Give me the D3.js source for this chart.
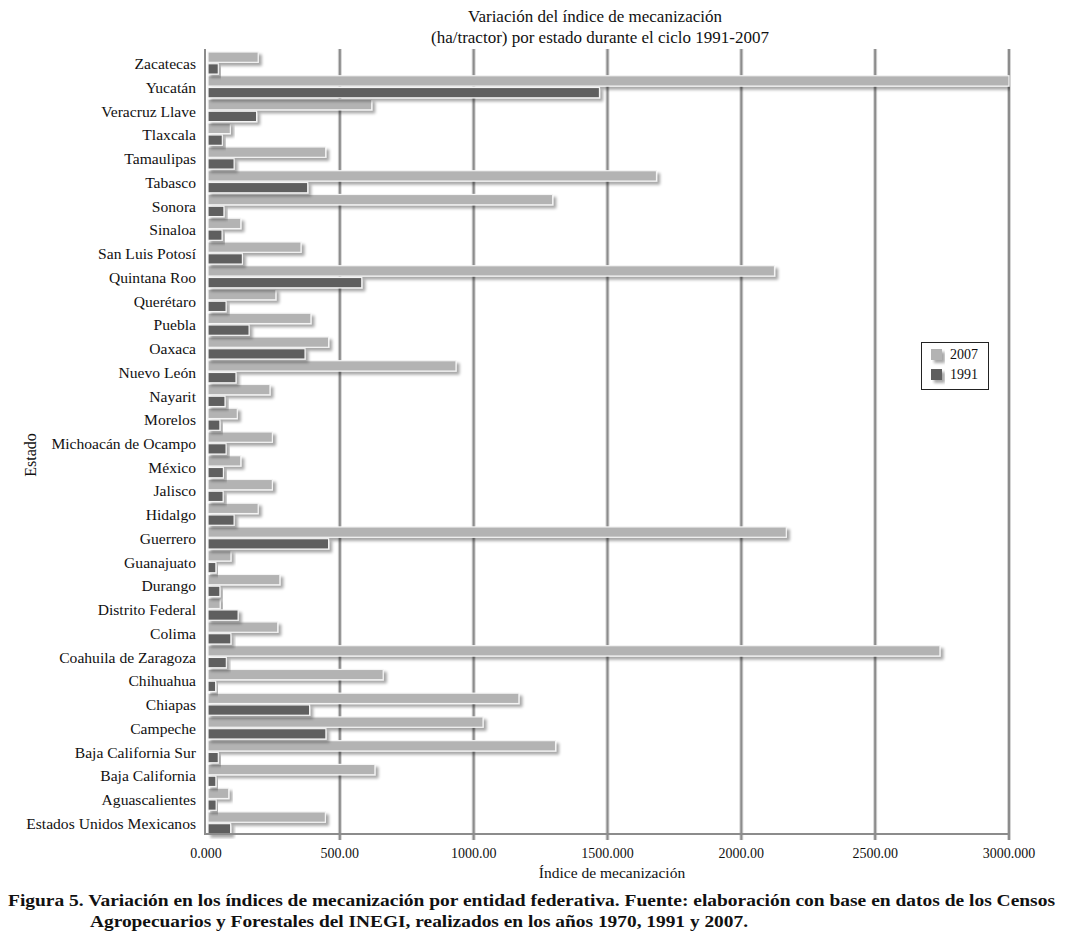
<!DOCTYPE html>
<html>
<head>
<meta charset="utf-8">
<script src="https://cdn.jsdelivr.net/npm/d3@7/dist/d3.min.js"></script>
<style>
  html, body { margin: 0; padding: 0; background: #fff; }
  svg { display: block; }
  text { font-family: "Liberation Serif", "Times New Roman", serif; fill: #111; }
</style>
</head>
<body>
<svg id="chart" width="1065" height="950"></svg>
<script>
const categories = [
  "Zacatecas", "Yucatán", "Veracruz Llave", "Tlaxcala", "Tamaulipas", "Tabasco",
  "Sonora", "Sinaloa", "San Luis Potosí", "Quintana Roo", "Querétaro", "Puebla",
  "Oaxaca", "Nuevo León", "Nayarit", "Morelos", "Michoacán de Ocampo", "México",
  "Jalisco", "Hidalgo", "Guerrero", "Guanajuato", "Durango", "Distrito Federal",
  "Colima", "Coahuila de Zaragoza", "Chihuahua", "Chiapas", "Campeche",
  "Baja California Sur", "Baja California", "Aguascalientes", "Estados Unidos Mexicanos"
];
const values2007 = [
  195, 3000, 619, 91, 447, 1683,
  1295, 130, 355, 2124, 261, 392,
  458, 934, 239, 117, 248, 130,
  248, 195, 2168, 93, 276, 53,
  268, 2742, 662, 1169, 1035,
  1306, 631, 85, 446
];
const values1991 = [
  46, 1470, 189, 61, 105, 380,
  67, 60, 136, 582, 75, 161,
  370, 112, 71, 52, 75, 65,
  64, 105, 458, 37, 52, 120,
  93, 76, 36, 387, 448,
  46, 37, 38, 92
];
const seriesNames = ["2007", "1991"];
const seriesColors = ["#b3b3b3", "#5e5e5e"];
const tickValues = [0, 500, 1000, 1500, 2000, 2500, 3000];
const tickLabels = ["0.000", "500.00", "1000.00", "1500.000", "2000.00", "2500.00", "3000.000"];
const titleLines = ["Variación del índice de mecanización", "(ha/tractor) por estado durante el ciclo 1991-2007"];
const captionLines = [
  "Figura 5. Variación en los índices de mecanización por entidad federativa. Fuente: elaboración con base en datos de los Censos",
  "Agropecuarios y Forestales del INEGI, realizados en los años 1970, 1991 y 2007."
];

const svg = d3.select("#chart");
const pL = 206, pR = 1009, pT = 52, pB = 834;

const x = d3.scaleLinear().domain([0, 3000]).range([pL, pR]);
const y = d3.scaleBand().domain(categories).range([pT, pB]).paddingInner(0.07).paddingOuter(0.0);
const ySub = d3.scaleBand().domain(seriesNames).range([0, y.bandwidth()]).paddingInner(0.12);

const defs = svg.append("defs");
const f = defs.append("filter").attr("id", "shadow").attr("x", "-10%").attr("y", "-50%").attr("width", "130%").attr("height", "250%");
f.append("feGaussianBlur").attr("in", "SourceAlpha").attr("stdDeviation", 1.4).attr("result", "blur");
f.append("feOffset").attr("in", "blur").attr("dx", 3).attr("dy", 3).attr("result", "off");
f.append("feComponentTransfer").attr("in", "off").attr("result", "offA")
  .append("feFuncA").attr("type", "linear").attr("slope", 0.35);
const m = f.append("feMerge");
m.append("feMergeNode").attr("in", "offA");
m.append("feMergeNode").attr("in", "SourceGraphic");

const clip = defs.append("clipPath").attr("id", "plotclip");
clip.append("rect").attr("x", pL).attr("y", pT - 5).attr("width", pR - pL + 1).attr("height", pB - pT + 10);

// gridlines
const grid = svg.append("g");
grid.selectAll("line.g").data(tickValues.slice(1)).join("line")
  .attr("x1", d => x(d)).attr("x2", d => x(d))
  .attr("y1", pT - 3).attr("y2", pB + 6)
  .attr("stroke", "#d4d4d4").attr("stroke-width", 4);
grid.selectAll("line.g2").data(tickValues.slice(1)).join("line")
  .attr("x1", d => x(d)).attr("x2", d => x(d))
  .attr("y1", pT - 3).attr("y2", pB + 6)
  .attr("stroke", "#8c8c8c").attr("stroke-width", 2);

// bars
const bars = svg.append("g").attr("clip-path", "url(#plotclip)");
const series = [values2007, values1991];
series.forEach((vals, si) => {
  bars.append("g").selectAll("rect").data(categories).join("rect")
    .attr("x", x(0) + 2)
    .attr("y", (c) => y(c) + ySub(seriesNames[si]))
    .attr("width", (c, i) => Math.max(0, x(vals[i]) - x(0) - 2))
    .attr("height", ySub.bandwidth())
    .attr("fill", seriesColors[si])
    .attr("stroke", "#f4f4f4").attr("stroke-width", 1.2)
    .attr("filter", "url(#shadow)");
});

// axis lines
svg.append("line").attr("x1", pL - 1).attr("x2", pL - 1).attr("y1", pT - 3).attr("y2", pB + 1)
  .attr("stroke", "#8c8c8c").attr("stroke-width", 2);
svg.append("line").attr("x1", pL - 2).attr("x2", pR + 1).attr("y1", pB).attr("y2", pB)
  .attr("stroke", "#8c8c8c").attr("stroke-width", 2);

// x tick labels
svg.append("g").selectAll("text").data(tickValues).join("text")
  .attr("x", d => x(d)).attr("y", 858)
  .attr("text-anchor", "middle").attr("font-size", 14)
  .text((d, i) => tickLabels[i]);

// y labels
svg.append("g").selectAll("text").data(categories).join("text")
  .attr("x", 196).attr("y", c => y(c) + y.bandwidth() / 2 + 6)
  .attr("text-anchor", "end").attr("font-size", 15.6)
  .text(c => c);

// axis titles
svg.append("text").attr("x", 612).attr("y", 878).attr("text-anchor", "middle").attr("font-size", 15.5)
  .text("Índice de mecanización");
svg.append("text").attr("transform", "translate(36,455) rotate(-90)").attr("text-anchor", "middle").attr("font-size", 16)
  .text("Estado");

// title
svg.append("g").selectAll("text").data(titleLines).join("text")
  .attr("x", (d, i) => i === 0 ? 595 : 600).attr("y", (d, i) => 22 + i * 21)
  .attr("text-anchor", "middle").attr("font-size", 17)
  .text(d => d);

// legend
const lg = svg.append("g");
lg.append("rect").attr("x", 921.5).attr("y", 342.5).attr("width", 67).attr("height", 47)
  .attr("fill", "#fff").attr("stroke", "#222").attr("stroke-width", 1);
seriesNames.forEach((s, i) => {
  lg.append("rect").attr("x", 931).attr("y", 349 + i * 20).attr("width", 11).attr("height", 11)
    .attr("fill", seriesColors[i]).attr("filter", "url(#shadow)");
  lg.append("text").attr("x", 950).attr("y", 359 + i * 20).attr("font-size", 14).text(s);
});

// caption
svg.append("text").attr("x", 8).attr("y", 906).attr("font-size", 17).attr("font-weight", "bold")
  .attr("textLength", 1047).attr("lengthAdjust", "spacingAndGlyphs").text(captionLines[0]);
svg.append("text").attr("x", 90).attr("y", 927).attr("font-size", 17).attr("font-weight", "bold")
  .attr("textLength", 658).attr("lengthAdjust", "spacingAndGlyphs").text(captionLines[1]);
</script>
</body>
</html>
